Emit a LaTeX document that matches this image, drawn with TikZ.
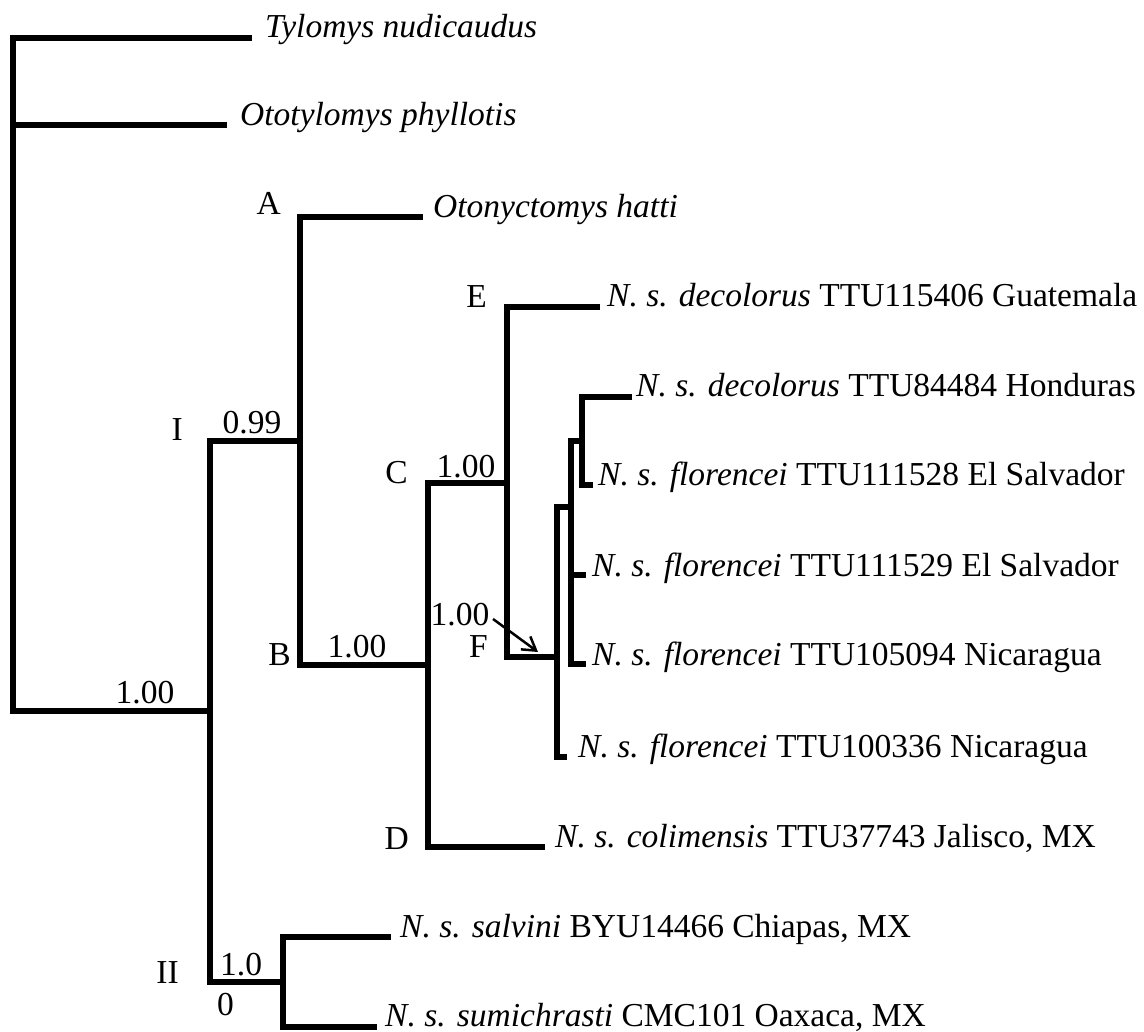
\documentclass[tikz,border=0pt]{standalone}
\usepackage{fontspec}
\setmainfont{Liberation Serif}
\usetikzlibrary{arrows.meta}
\begin{document}
\begin{tikzpicture}[x=1pt,y=-1pt,
  font=\fontsize{33.5}{40}\selectfont,
  br/.style={line width=5.5pt, line join=miter},
  leaf/.style={anchor=base west, inner sep=0pt},
  lab/.style={anchor=base east, inner sep=0pt},
  sup/.style={anchor=base, inner sep=0pt}]
\useasboundingbox (0,0) rectangle (1144,1032);
% ---- internal node corners ----
\coordinate (rT) at (13,38);   \coordinate (rB) at (13,711);
\coordinate (iT) at (210,441); \coordinate (iB) at (210,982); \coordinate (iM) at (210,711);
\coordinate (abT) at (300,217); \coordinate (abB) at (300,665); \coordinate (abM) at (300,441);
\coordinate (cdT) at (428,483); \coordinate (cdB) at (428,847); \coordinate (cdM) at (428,665);
\coordinate (efT) at (507,307); \coordinate (efB) at (507,657); \coordinate (efM) at (507,483);
\coordinate (fT) at (557,507);  \coordinate (fB) at (557,757);  \coordinate (fM) at (557,657);
\coordinate (pT) at (571,441);  \coordinate (pB) at (571,664);  \coordinate (pM) at (571,507); \coordinate (pS) at (571,575);
\coordinate (hsT) at (582,397); \coordinate (hsB) at (582,485); \coordinate (hsM) at (582,441);
\coordinate (iiT) at (283,937); \coordinate (iiB) at (283,1027); \coordinate (iiM) at (283,982);
\coordinate (rO) at (13,125);
% ---- tips ----
\coordinate (tTyl) at (252,38);
\coordinate (tOto) at (227,125);
\coordinate (tA) at (423,217);
\coordinate (tG) at (600,307);
\coordinate (tH) at (632,397);
\coordinate (tS1) at (593,485);
\coordinate (tS2) at (586,575);
\coordinate (tN1) at (586,664);
\coordinate (tN2) at (567,757);
\coordinate (tCol) at (545,847);
\coordinate (tSal) at (391,937);
\coordinate (tSum) at (377,1027);
% ---- branches ----
\draw[br] (tTyl) -- (rT) -- (rB) -- (iM);
\draw[br] (rO) -- (tOto);
\draw[br] (abM) -- (iT) -- (iB) -- (iiM);
\draw[br] (tA) -- (abT) -- (abB) -- (cdM);
\draw[br] (efM) -- (cdT) -- (cdB) -- (tCol);
\draw[br] (tG) -- (efT) -- (efB) -- (fM);
\draw[br] (pM) -- (fT) -- (fB) -- (tN2);
\draw[br] (hsM) -- (pT) -- (pB) -- (tN1);
\draw[br] (pS) -- (tS2);
\draw[br] (tH) -- (hsT) -- (hsB) -- (tS1);
\draw[br] (tSal) -- (iiT) -- (iiB) -- (tSum);
% ---- leaf labels ----
\node[leaf] (lTyl) at (265,38) {\textit{Tylomys nudicaudus}};
\node[leaf] (lOto) at (240,126) {\textit{Ototylomys phyllotis}};
\node[leaf] (lA) at (433,218) {\textit{Otonyctomys hatti}};
\node[leaf] (lG) at (607,307) {\textit{N. s. decolorus} TTU115406 Guatemala};
\node[leaf] (lH) at (636,397) {\textit{N. s. decolorus} TTU84484 Honduras};
\node[leaf] (lS1) at (598,485) {\textit{N. s. florencei} TTU111528 El Salvador};
\node[leaf] (lS2) at (592,576) {\textit{N. s. florencei} TTU111529 El Salvador};
\node[leaf] (lN1) at (592,665) {\textit{N. s. florencei} TTU105094 Nicaragua};
\node[leaf] (lN2) at (578,757) {\textit{N. s. florencei} TTU100336 Nicaragua};
\node[leaf] (lCol) at (555,847) {\textit{N. s. colimensis} TTU37743 Jalisco, MX};
\node[leaf] (lSal) at (400,937) {\textit{N. s. salvini} BYU14466 Chiapas, MX};
\node[leaf] (lSum) at (385,1026) {\textit{N. s. sumichrasti} CMC101 Oaxaca, MX};
% ---- clade letters ----
\node[lab] (cA) at (281,215) {A};
\node[lab] (cB) at (291,665) {B};
\node[lab] (cC) at (408,483) {C};
\node[lab] (cD) at (409,849) {D};
\node[lab] (cE) at (487,308) {E};
\node[lab] (cF) at (488,657) {F};
\node[lab] (cI) at (183,440) {I};
\node[lab] (cII) at (179,983) {II};
% ---- support values ----
\node[sup] (s0) at (145,703) {1.00};
\node[sup] (s1) at (252,433) {0.99};
\node[sup] (s2) at (357,657) {1.00};
\node[sup] (s3) at (466,477) {1.00};
\node[sup] (s4) at (460,625) {1.00};
\node[sup, anchor=base west] (s5) at (220,975) {1.0};
\node[sup, anchor=base west] (s6) at (217,1015) {0};
% ---- arrow ----
\coordinate (aS) at (493,619);
\coordinate (aE) at (538,652);
\draw[line width=2.5pt, -{Straight Barb[length=13pt,width=16pt]}] (aS) -- (aE);
\end{tikzpicture}
\end{document}
